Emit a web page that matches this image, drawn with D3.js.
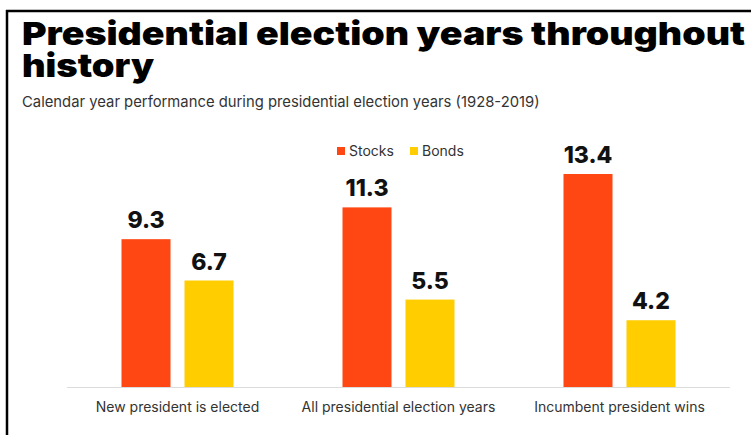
<!DOCTYPE html>
<html>
<head>
<meta charset="utf-8">
<script src="https://cdn.jsdelivr.net/npm/d3@7"></script>
<style>
    body { margin: 0; background: #fff; }
    text { font-family: Inter, "Noto Sans", sans-serif; }
</style>
</head>
<body>
<div id="chart"></div>
<script>
// data
const categories = ["New president is elected", "All presidential election years", "Incumbent president wins"];
const series = ["Stocks", "Bonds"];
const stocks = [9.3, 11.3, 13.4];
const bonds = [6.7, 5.5, 4.2];
const colors = ["#ff4713", "#ffcd00"];

const width = 751, height = 435;

let svg = d3.select("#chart")
    .append("svg")
    .attr("width", width)
    .attr("height", height)

svg.append("rect").attr("width", width).attr("height", height).attr("fill", "#fff")

// frame lines (left + top)
svg.append("line").attr("x1", 7).attr("x2", 7).attr("y1", 10).attr("y2", height)
    .attr("stroke", "#000").attr("stroke-width", 2.5)
svg.append("line").attr("x1", 6).attr("x2", width).attr("y1", 11).attr("y2", 11)
    .attr("stroke", "#000").attr("stroke-width", 2.5)

// fit a text node to a target width
function fitWidth(sel, w) {
    let cur = +sel.attr("font-size");
    let f = cur * w / sel.node().getComputedTextLength();
    sel.attr("font-size", f);
    return f;
}

// title: the original face is wider, so stretch the glyphs to its width
svg.append("text")
    .attr("x", 22).attr("y", 45)
    .attr("font-size", 32).attr("font-weight", 900).attr("fill", "#000")
    .attr("textLength", 723).attr("lengthAdjust", "spacingAndGlyphs")
    .text("Presidential election years throughout")
svg.append("text")
    .attr("x", 22).attr("y", 77)
    .attr("font-size", 32).attr("font-weight", 900).attr("fill", "#000")
    .attr("textLength", 132).attr("lengthAdjust", "spacingAndGlyphs")
    .text("history")

let sub = svg.append("text")
    .attr("x", 22).attr("y", 107)
    .attr("font-size", 14).attr("fill", "#333")
    .text("Calendar year performance during presidential election years (1928-2019)")
fitWidth(sub, 518)

// scales
const baseY = 387;
let x0 = d3.scaleBand().domain(categories).range([67, 730]);
let x1 = d3.scaleBand().domain(series).range([0, x0.bandwidth()]).paddingInner(0.222).paddingOuter(0.865);
let y = d3.scaleLinear().domain([0, 13.4]).range([baseY, baseY - 213]);

const rows = categories.map((c, i) => ({cat: c, vals: [stocks[i], bonds[i]]}));

// baseline
svg.append("line")
    .attr("x1", 67).attr("x2", 730).attr("y1", baseY + 0.5).attr("y2", baseY + 0.5)
    .attr("stroke", "#dcdcdc")

let g = svg.selectAll(".grp")
    .data(rows)
    .enter().append("g")
    .attr("class", "grp")
    .attr("transform", d => "translate(" + x0(d.cat) + ",0)")

g.selectAll("rect")
    .data(d => d.vals.map((v, j) => ({s: series[j], v: v, j: j})))
    .enter().append("rect")
    .attr("x", d => x1(d.s))
    .attr("width", x1.bandwidth())
    .attr("y", d => y(d.v))
    .attr("height", d => baseY - y(d.v))
    .attr("fill", d => colors[d.j])

g.selectAll(".val")
    .data(d => d.vals.map((v, j) => ({s: series[j], v: v, j: j})))
    .enter().append("text")
    .attr("class", "val")
    .attr("x", d => x1(d.s) + x1.bandwidth() / 2)
    .attr("y", d => y(d.v) - 11)
    .attr("text-anchor", "middle")
    .attr("font-size", 23).attr("font-weight", 800).attr("fill", "#111")
    .text(d => d.v.toFixed(1))

// category labels
svg.selectAll(".cat")
    .data(categories)
    .enter().append("text")
    .attr("class", "cat")
    .attr("x", d => x0(d) + x0.bandwidth() / 2)
    .attr("y", 412)
    .attr("text-anchor", "middle")
    .attr("font-size", 14).attr("fill", "#333")
    .text(d => d)

// legend
const legX = [337, 410];
let leg = svg.selectAll(".leg")
    .data(series)
    .enter().append("g")
    .attr("class", "leg")
    .attr("transform", (d, i) => "translate(" + legX[i] + ",147)")
leg.append("rect").attr("width", 8).attr("height", 8).attr("fill", (d, i) => colors[i])
leg.append("text").attr("x", 12).attr("y", 8.5)
    .attr("font-size", 14).attr("fill", "#333")
    .text(d => d)
</script>
</body>
</html>
